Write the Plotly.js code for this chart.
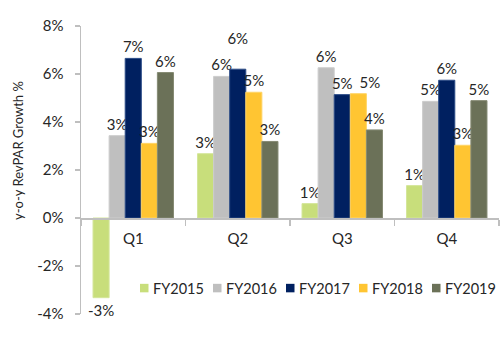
<!DOCTYPE html>
<html>
<head>
<meta charset="utf-8">
<script src="https://cdn.plot.ly/plotly-3.0.1.min.js"></script>
<style>html,body{margin:0;padding:0;background:#fff;}#chart{width:504px;height:351px;}</style>
</head>
<body>
<div id="chart"></div>
<script>
// ---- data ----
var quarters = ['Q1', 'Q2', 'Q3', 'Q4'];
var seriesNames = ['FY2015', 'FY2016', 'FY2017', 'FY2018', 'FY2019'];
var fy2015 = [-3.32, 2.68, 0.60, 1.35];
var fy2016 = [3.43, 5.90, 6.26, 4.86];
var fy2017 = [6.65, 6.20, 5.14, 5.74];
var fy2018 = [3.11, 5.24, 5.18, 3.03];
var fy2019 = [6.06, 3.19, 3.67, 4.89];
var yTickVals = [-4, -2, 0, 2, 4, 6, 8];
var yTickText = ['-4%', '-2%', '0%', '2%', '4%', '6%', '8%'];
var yTitle = 'y-o-y RevPAR Growth %';

// ---- styles ----
var colors = ['#c8de7b', '#bfbfbf', '#002060', '#ffc532', '#6b7158'];
var lineColors = ['#d4e69a', '#cccccc', '#2a4a86', '#ffd466', '#858a73'];
var FONT = 'Lato, "Open Sans", sans-serif';
var TXT = '#262626';
// data labels that the original chart nudged (series index, point index)
var liftedLabel = {s: 2, p: 1};   // moved up
var nudgedLabel = {s: 3, p: 2};   // moved right

var NB = '&nbsp;';
var allSeries = [fy2015, fy2016, fy2017, fy2018, fy2019];
var traces = allSeries.map(function (vals, i) {
  return {
    type: 'bar',
    name: seriesNames[i],
    x: quarters,
    y: vals,
    text: vals.map(function (v, j) {
      var t = Math.round(v) + '%';
      if (i === liftedLabel.s && j === liftedLabel.p) t += '<br>' + NB;
      if (i === nudgedLabel.s && j === nudgedLabel.p) t = NB + NB + NB + NB + NB + NB + t;
      return t;
    }),
    textposition: 'outside',
    textfont: {family: FONT, size: 15, color: TXT},
    constraintext: 'none',
    cliponaxis: false,
    marker: {color: colors[i], line: {color: lineColors[i], width: 1}},
    showlegend: false,
    hoverinfo: 'none'
  };
});

// legend built from series names / colours
var plotL = 81, plotW = 418, plotT = 26, plotH = 288, legendY = 0.09;
var legendStart = 140, legendStep = 73;
var shapes = [], annotations = [];
seriesNames.forEach(function (n, i) {
  var px = legendStart + i * legendStep;
  shapes.push({
    type: 'rect', xref: 'paper', yref: 'paper',
    xsizemode: 'pixel', ysizemode: 'pixel',
    xanchor: (px - plotL) / plotW, yanchor: legendY,
    x0: 0, x1: 8.5, y0: -4.25, y1: 4.25,
    fillcolor: colors[i], line: {width: 0}
  });
  annotations.push({
    xref: 'paper', yref: 'paper',
    x: (px + 11 - plotL) / plotW, y: legendY,
    xanchor: 'left', yanchor: 'middle',
    text: n, showarrow: false,
    font: {family: FONT, size: 14.5, color: TXT}
  });
});
// y-axis title (placed as in the original, a little above the axis centre)
annotations.push({
  xref: 'paper', yref: 'paper',
  x: (18 - plotL) / plotW, y: 1 - (150 - plotT) / plotH,
  xanchor: 'center', yanchor: 'middle',
  textangle: -90, text: yTitle, showarrow: false,
  font: {family: FONT, size: 13, color: TXT}
});

var layout = {
  width: 504, height: 351,
  margin: {l: 81, r: 5, t: 26, b: 37, pad: 0},
  paper_bgcolor: '#ffffff', plot_bgcolor: '#ffffff',
  barmode: 'group', bargap: 0.23, bargroupgap: 0,
  font: {family: FONT, size: 15, color: TXT},
  xaxis: {
    anchor: 'free', position: 1 / 3,
    showline: true, linecolor: '#bfbfbf', linewidth: 1.5,
    ticks: 'outside', tickson: 'boundaries', ticklen: 6, tickcolor: '#bfbfbf', tickwidth: 1.5,
    showgrid: false, zeroline: false,
    tickfont: {family: FONT, size: 15, color: TXT},
    ticklabelstandoff: 6
  },
  yaxis: {
    range: [-4, 8],
    tickvals: yTickVals, ticktext: yTickText,
    showline: true, linecolor: '#bfbfbf', linewidth: 1.5,
    ticks: 'outside', ticklen: 5, tickcolor: '#bfbfbf', tickwidth: 1.5,
    showgrid: false, zeroline: false,
    tickfont: {family: FONT, size: 15, color: TXT},
    ticklabelstandoff: 8
  },
  shapes: shapes,
  annotations: annotations
};

Plotly.newPlot('chart', traces, layout, {staticPlot: true, displayModeBar: false});
</script>
</body>
</html>
